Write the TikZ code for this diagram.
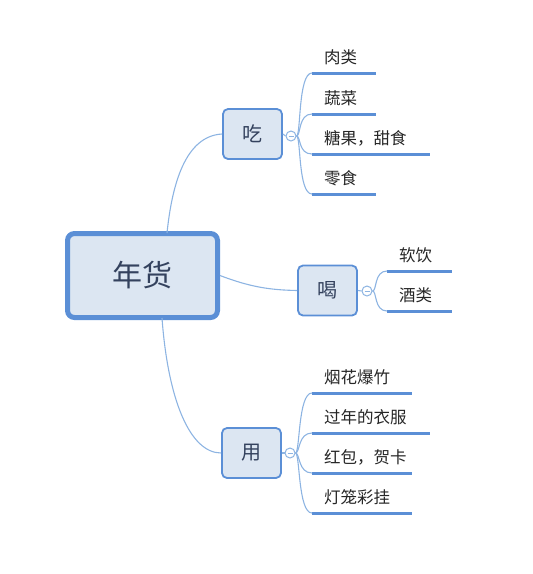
\documentclass[tikz,border=0pt]{standalone}
\usepackage{fontspec}
\setmainfont{Noto Sans CJK SC}
\definecolor{bd}{HTML}{5B8FD6}
\definecolor{fl}{HTML}{DCE6F2}
\definecolor{cn}{HTML}{8DB4E2}
\definecolor{tx}{HTML}{34425E}
\begin{document}
\begin{tikzpicture}[x=1pt,y=-1pt,
  rootbox/.style={draw=bd,line width=5pt,fill=fl,rounded corners=7pt,minimum width=150pt,minimum height=84pt,inner sep=0pt,text=tx,font=\fontsize{30}{30}\selectfont},
  topic/.style={draw=bd,line width=1.8pt,fill=fl,rounded corners=5pt,minimum width=59pt,minimum height=50pt,inner sep=0pt,text=tx,font=\fontsize{20}{20}\selectfont},
  fold/.style={circle,draw=cn,line width=1pt,fill=white,minimum size=10pt,inner sep=0pt},
  leaftext/.style={anchor=south west,inner sep=0pt,font=\fontsize{16.5}{16.5}\selectfont,text=black!85},
  uline/.style={draw=bd,line width=3pt},
  conn/.style={draw=cn,line width=1.1pt},
]
\useasboundingbox (0,0) rectangle (533,574);
% root
\node[rootbox] (root) at (142.5,275.5) {年货};
% topics
\node[topic] (chi) at (252.5,134) {吃};
\node[topic] (he) at (327.5,290.5) {喝};
\node[topic] (yong) at (251.5,453) {用};
% fold circles
\node[fold] (fc) at (291,136) {};
\node[fold] (fh) at (367,291) {};
\node[fold] (fy) at (290,453) {};
\foreach \f in {fc,fh,fy}{\draw[cn,line width=0.9pt] ([xshift=-2.5pt]\f.center) -- ([xshift=2.5pt]\f.center);}
% root connectors
\draw[conn] (chi.west) .. controls (185,136) and (172,185) .. (167,233);
\draw[conn] (root.east) .. controls (250,287) and (270,290) .. (he.west);
\draw[conn] (162,318) .. controls (168,400) and (190,453) .. (yong.west);
\draw[conn] (chi.east) -- (fc.west);
\draw[conn] (he.east) -- (fh.west);
\draw[conn] (yong.east) -- (fy.west);
% leaves of chi
\coordinate (a1) at (312,73);  \coordinate (b1) at (376,73);
\coordinate (a2) at (312,114); \coordinate (b2) at (376,114);
\coordinate (a3) at (312,154); \coordinate (b3) at (430,154);
\coordinate (a4) at (312,194); \coordinate (b4) at (376,194);
\node[leaftext] (t1) at (324,65) {肉类};
\node[leaftext] (t2) at (324,106) {蔬菜};
\node[leaftext] (t3) at (324,146) {糖果，甜食};
\node[leaftext] (t4) at (324,186) {零食};
\foreach \i in {1,2,3,4}{\draw[uline] (a\i) -- (b\i);}
\foreach \i/\yy in {1/73,2/114,3/154,4/194}{\draw[conn] (fc.east) .. controls (301,136) and (298,\yy) .. (a\i);}
% leaves of he
\coordinate (c1) at (387,271); \coordinate (d1) at (452,271);
\coordinate (c2) at (387,311); \coordinate (d2) at (452,311);
\node[leaftext] (u1) at (399,263) {软饮};
\node[leaftext] (u2) at (399,303) {酒类};
\foreach \i in {1,2}{\draw[uline] (c\i) -- (d\i);}
\foreach \i/\yy in {1/271,2/311}{\draw[conn] (fh.east) .. controls (377,291) and (374,\yy) .. (c\i);}
% leaves of yong
\coordinate (e1) at (312,393); \coordinate (f1) at (412,393);
\coordinate (e2) at (312,433); \coordinate (f2) at (430,433);
\coordinate (e3) at (312,473); \coordinate (f3) at (412,473);
\coordinate (e4) at (312,513); \coordinate (f4) at (412,513);
\node[leaftext] (v1) at (324,385) {烟花爆竹};
\node[leaftext] (v2) at (324,425) {过年的衣服};
\node[leaftext] (v3) at (324,465) {红包，贺卡};
\node[leaftext] (v4) at (324,505) {灯笼彩挂};
\foreach \i in {1,2,3,4}{\draw[uline] (e\i) -- (f\i);}
\foreach \i/\yy in {1/393,2/433,3/473,4/513}{\draw[conn] (fy.east) .. controls (300,453) and (298,\yy) .. (e\i);}
\end{tikzpicture}
\end{document}
